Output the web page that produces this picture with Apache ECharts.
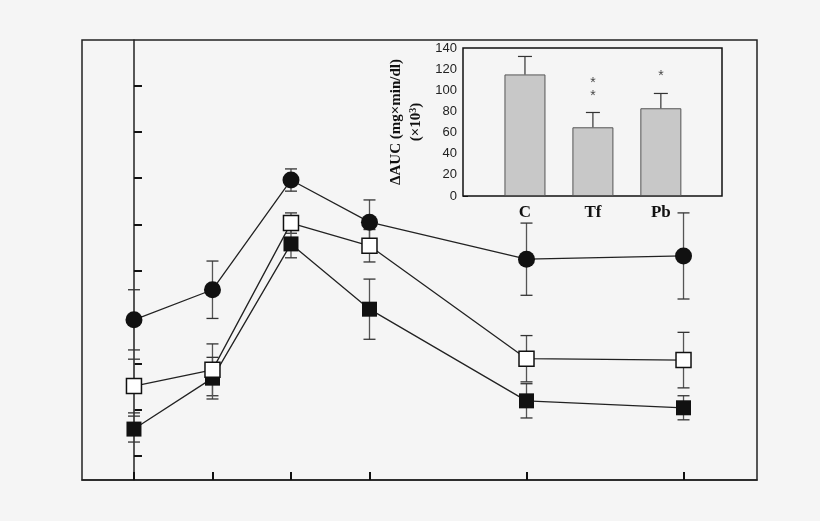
<!DOCTYPE html><html><head><meta charset="utf-8">
<script src="https://cdn.jsdelivr.net/npm/echarts@6/dist/echarts.min.js"></script>
<style>html,body{margin:0;background:#f5f5f5}#c{width:820px;height:521px}</style></head><body><div id="c"></div>
<script>
const xTimes=[0,1,2,3,5,7];
const circleVals=[3.94,4.59,6.96,6.05,5.25,5.32];
const circleErr=[0.65,0.62,0.24,0.48,0.78,0.93];
const openVals=[2.51,2.86,6.03,5.54,3.10,3.07];
const openErr=[0.58,0.56,0.22,0.35,0.5,0.6];
const filledVals=[1.58,2.68,5.58,4.17,2.19,2.04];
const filledErr=[0.28,0.45,0.3,0.65,0.37,0.26];
const yTicks=[1,2,3,4,5,6,7,8,9];
const insetCats=['C','Tf','Pb'];
const insetVals=[115,65,83];
const insetErr=[17,14,14];
const stars=[[2,94],[2,107],[3,113]];

const chart=echarts.init(document.getElementById('c'));
function pts(v){return xTimes.map((x,i)=>[x,v[i]]);}
function errSeries(v,e,z){
  return {type:'custom',xAxisIndex:0,yAxisIndex:0,z:z,
    data:xTimes.map((x,i)=>[x,v[i]-e[i],v[i]+e[i]]),
    renderItem:(p,api)=>{const lo=api.coord([api.value(0),api.value(1)]),hi=api.coord([api.value(0),api.value(2)]);const w=6;
      return {type:'group',children:[
        {type:'line',shape:{x1:lo[0],y1:lo[1],x2:hi[0],y2:hi[1]},style:{stroke:'#555',lineWidth:1.3}},
        {type:'line',shape:{x1:lo[0]-w,y1:lo[1],x2:lo[0]+w,y2:lo[1]},style:{stroke:'#333',lineWidth:1.3}},
        {type:'line',shape:{x1:hi[0]-w,y1:hi[1],x2:hi[0]+w,y2:hi[1]},style:{stroke:'#333',lineWidth:1.3}}]};}};
}
function lineSeries(v,sym,fill,size,z){
  return {type:'line',xAxisIndex:0,yAxisIndex:0,data:pts(v),symbol:sym,symbolSize:size,z:z,
    lineStyle:{color:'#222',width:1.3},itemStyle:{color:fill,borderColor:'#111',borderWidth:fill==='#fff'?1.5:0,opacity:1},animation:false};
}
chart.setOption({
  animation:false,backgroundColor:'#f5f5f5',
  grid:[{left:82,right:63,top:40,bottom:41,show:true,borderColor:'#222',borderWidth:1.5},
        {left:463,right:98,top:48,bottom:325,show:true,borderColor:'#111',borderWidth:1.5,backgroundColor:'#f5f5f5',z:5}],
  xAxis:[{type:'value',gridIndex:0,min:-0.662,max:7.936,splitLine:{show:false},axisLabel:{show:false},
          axisLine:{lineStyle:{color:'#222',width:1.5}},axisTick:{inside:true,length:8,customValues:xTimes,lineStyle:{color:'#111',width:2}}},
         {type:'value',gridIndex:1,min:0.088,max:3.9,splitLine:{show:false},axisLine:{show:false},axisTick:{show:false},
          axisLabel:{customValues:[1,2,3],formatter:v=>insetCats[Math.round(v)-1],fontFamily:'Liberation Serif',fontWeight:'bold',fontSize:17,color:'#111',margin:8}}],
  yAxis:[{type:'value',gridIndex:0,min:0.48,max:9.985,splitLine:{show:false},axisLabel:{show:false},
          axisLine:{lineStyle:{color:'#222',width:1.5}},axisTick:{inside:true,length:8,customValues:yTicks,lineStyle:{color:'#111',width:2}}},
         {type:'value',gridIndex:1,min:0,max:140,interval:20,splitLine:{show:false},
          axisLine:{show:false},axisTick:{inside:true,length:5,lineStyle:{color:'#111'}},
          axisLabel:{fontFamily:'Liberation Sans',fontSize:13,color:'#222',margin:6}}],
  series:[
    errSeries(circleVals,circleErr,2),errSeries(openVals,openErr,2),errSeries(filledVals,filledErr,2),
    lineSeries(filledVals,'rect','#111',15,3),
    lineSeries(openVals,'rect','#fff',15,4),
    lineSeries(circleVals,'circle','#111',17,3),
    {type:'bar',xAxisIndex:1,yAxisIndex:1,data:insetVals.map((v,i)=>[i+1,v]),barWidth:41,z:6,
     itemStyle:{color:'#c8c8c8',borderColor:'#555',borderWidth:1}},
    {type:'custom',xAxisIndex:1,yAxisIndex:1,z:7,data:insetVals.map((v,i)=>[i+1,v,v+insetErr[i]]),
     renderItem:(p,api)=>{const lo=api.coord([api.value(0),api.value(1)]),hi=api.coord([api.value(0),api.value(2)]);
      return {type:'group',children:[{type:'line',shape:{x1:lo[0],y1:lo[1],x2:hi[0],y2:hi[1]},style:{stroke:'#333',lineWidth:1.2}},
        {type:'line',shape:{x1:hi[0]-7,y1:hi[1],x2:hi[0]+7,y2:hi[1]},style:{stroke:'#333',lineWidth:1.2}}]};}},
    {type:'scatter',xAxisIndex:1,yAxisIndex:1,z:7,symbolSize:0,data:stars,
     label:{show:true,position:'inside',formatter:'*',fontSize:14,color:'#111',fontFamily:'Liberation Sans'}}
  ],
  graphic:[{type:'text',x:396,y:122,rotation:Math.PI/2,z:10,
    style:{text:'ΔAUC (mg×min/dl)',fill:'#111',font:'bold 15px "Liberation Serif"',align:'center',verticalAlign:'middle'}},
   {type:'text',x:416,y:122,rotation:Math.PI/2,z:10,
    style:{rich:{a:{font:'bold 15px "Liberation Serif"',fill:'#111'},s:{font:'bold 10px "Liberation Serif"',fill:'#111',verticalAlign:'top',padding:[0,0,6,0]}},
      text:'{a|(×10}{s|3}{a|)}',align:'center',verticalAlign:'middle'}}]
});
</script></body></html>
